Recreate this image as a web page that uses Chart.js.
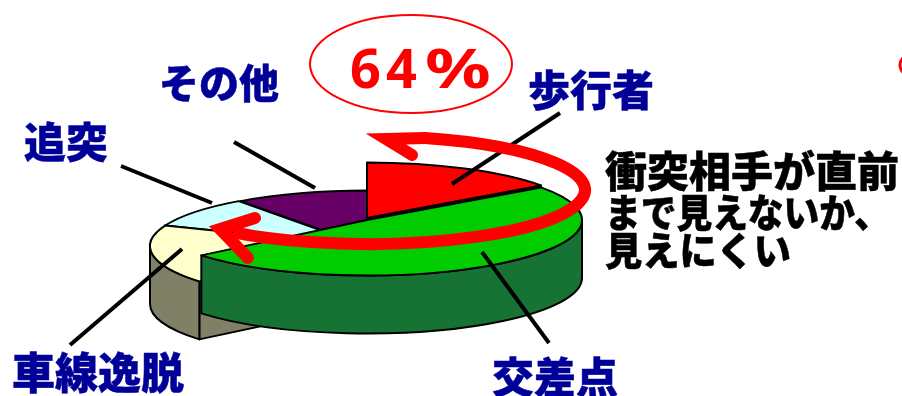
<!DOCTYPE html>
<html lang="ja">
<head>
<meta charset="UTF-8">
<title>衝突相手</title>
<style>
  html, body { margin: 0; padding: 0; background: #fff; }
  canvas { display: block; }
</style>
</head>
<body>
<canvas id="pie" width="902" height="396"></canvas>
<script src="https://cdn.jsdelivr.net/npm/chart.js@4"></script>
<script>
// 事故類型の割合 (%)
const categories = ['歩行者', '交差点', '車線逸脱', '追突', 'その他'];
const shares = [15, 49, 17, 9, 10];
const calloutLines = ['衝突相手が直前', 'まで見えないか、', '見えにくい'];
const highlightDigits = '64';
const highlightSign = '%';

const topColors = ['#ff0000', '#00cc00', '#ffffcc', '#ccffff', '#660066'];
const wallColors = ['#800000', '#167333', '#808066', '#668080', '#330033'];

// slices are pulled apart by hand, x/y in screen pixels
const sliceShift = [[2, -28], [2, -26], [0, 0], [0, 0], [2, 0]];
const drawOrder = [4, 3, 0, 2, 1];
const squash = 0.258;
const depth = 58;
const navy = '#000099';

function outline(ctx) {
  ctx.lineWidth = 2;
  ctx.strokeStyle = '#000';
  ctx.lineJoin = 'round';
  ctx.stroke();
}

// side wall and cut faces of one slice, below its top surface
function drawWalls(ctx, arc, i) {
  const [dx, dy] = sliceShift[i];
  const r = arc.outerRadius;
  const a0 = arc.startAngle, a1 = arc.endAngle;
  const h = depth / squash;
  const path = fn => {
    ctx.save();
    ctx.translate(arc.x + dx, arc.y + dy);
    ctx.scale(1, squash);
    ctx.beginPath();
    fn();
    ctx.closePath();
    ctx.restore();
    ctx.fillStyle = wallColors[i];
    ctx.fill();
    outline(ctx);
  };
  const face = a => path(() => {
    ctx.moveTo(0, 0);
    ctx.lineTo(r * Math.cos(a), r * Math.sin(a));
    ctx.lineTo(r * Math.cos(a), r * Math.sin(a) + h);
    ctx.lineTo(0, h);
  });
  if (Math.cos(a0) < -0.01) face(a0);
  if (Math.cos(a1) > 0.01) face(a1);

  // outer wall, only the part facing the viewer
  for (const k of [0, 2]) {
    const from = Math.max(a0, k * Math.PI);
    const to = Math.min(a1, (k + 1) * Math.PI);
    if (to > from) {
      path(() => {
        ctx.arc(0, 0, r, from, to);
        ctx.arc(0, h, r, to, from, true);
      });
    }
  }
}

function drawTop(ctx, arc, i) {
  const [dx, dy] = sliceShift[i];
  ctx.save();
  ctx.translate(arc.x + dx, arc.y + dy);
  ctx.scale(1, squash);
  ctx.translate(-arc.x, -arc.y);
  arc.draw(ctx);
  ctx.beginPath();
  ctx.moveTo(arc.x, arc.y);
  ctx.arc(arc.x, arc.y, arc.outerRadius, arc.startAngle, arc.endAngle);
  ctx.closePath();
  ctx.restore();
  outline(ctx);
}

const tiltedPie = {
  id: 'tiltedPie',
  beforeDatasetDraw(chart, args) {
    const ctx = chart.ctx;
    const arcs = args.meta.data;
    for (const i of drawOrder) {
      drawWalls(ctx, arcs[i], i);
      drawTop(ctx, arcs[i], i);
    }
    return false;
  }
};

function seg(ctx, x0, y0, x1, y1) {
  ctx.beginPath();
  ctx.moveTo(x0, y0);
  ctx.lineTo(x1, y1);
  ctx.stroke();
}

function label(ctx, text, x, y, size, color, fit) {
  ctx.font = '900 ' + size + 'px "Noto Sans CJK JP"';
  ctx.fillStyle = color;
  ctx.strokeStyle = color;
  ctx.lineWidth = 0.5;
  ctx.lineJoin = 'round';
  ctx.textAlign = 'left';
  ctx.textBaseline = 'alphabetic';
  ctx.fillText(text, x, y, fit);
  ctx.strokeText(text, x, y, fit);
}

const annotations = {
  id: 'annotations',
  afterDatasetsDraw(chart) {
    const ctx = chart.ctx;
    ctx.save();

    // leader lines
    ctx.strokeStyle = '#000';
    ctx.lineWidth = 4;
    ctx.lineCap = 'butt';
    seg(ctx, 560, 113, 452, 184);
    seg(ctx, 234, 142, 315, 188);
    seg(ctx, 121, 166, 212, 203);
    seg(ctx, 70, 345, 182, 249);
    seg(ctx, 482, 252, 549, 343);

    // arrow sweeping around the two slices
    ctx.strokeStyle = '#ff0000';
    ctx.lineWidth = 12;
    ctx.beginPath();
    ctx.ellipse(368, 190, 217, 54, 0, -Math.PI / 2 + 0.266, Math.PI - 0.9);
    ctx.stroke();
    ctx.lineCap = 'round';
    ctx.lineJoin = 'miter';
    ctx.beginPath();
    ctx.moveTo(412, 155);
    ctx.lineTo(386, 139);
    ctx.lineTo(425, 138);
    ctx.stroke();
    ctx.beginPath();
    ctx.moveTo(255, 218);
    ctx.lineTo(220, 229);
    ctx.lineTo(248, 258);
    ctx.stroke();

    // 64% bubble
    ctx.lineWidth = 2;
    ctx.beginPath();
    ctx.ellipse(411, 64, 101, 49, 0, 0, Math.PI * 2);
    ctx.stroke();
    ctx.font = '700 54px "Noto Sans"';
    ctx.fillStyle = '#ff0000';
    ctx.textAlign = 'left';
    ctx.letterSpacing = '5px';
    ctx.fillText(highlightDigits, 350, 88);
    ctx.letterSpacing = '0px';
    ctx.save();
    ctx.translate(425, 88);
    ctx.scale(1.35, 1);
    ctx.fillText(highlightSign, 0, 0);
    ctx.restore();

    // edge of a shape running off the right side
    ctx.lineWidth = 3;
    ctx.beginPath();
    ctx.ellipse(915, 65, 15, 12, 0, Math.PI * 0.7, Math.PI * 1.3);
    ctx.stroke();

    label(ctx, categories[0], 528, 106, 42, navy);
    label(ctx, categories[1], 492, 393, 42, navy);
    label(ctx, categories[2], 12, 389, 43, navy);
    label(ctx, categories[3], 24, 158, 42, navy);
    label(ctx, categories[4], 159, 98, 40, navy);

    label(ctx, calloutLines[0], 605, 187, 42, '#000');
    label(ctx, calloutLines[1], 605, 227, 39, '#000', 285);
    label(ctx, calloutLines[2], 605, 265, 39, '#000', 186);

    ctx.restore();
  }
};

new Chart(document.getElementById('pie'), {
  type: 'pie',
  data: {
    labels: categories,
    datasets: [{
      data: shares,
      backgroundColor: topColors,
      borderWidth: 0
    }]
  },
  options: {
    responsive: false,
    animation: false,
    radius: 215,
    layout: { padding: { top: 96, right: 172 } },
    plugins: {
      legend: { display: false },
      tooltip: { enabled: false }
    }
  },
  plugins: [tiltedPie, annotations]
});
</script>
</body>
</html>
